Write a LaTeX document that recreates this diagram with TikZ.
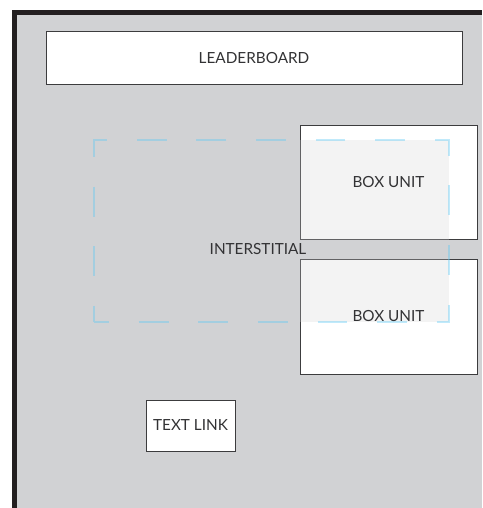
\documentclass[tikz,border=0pt]{standalone}
\usepackage{fontspec}
\setmainfont{Lato}
\definecolor{pagegray}{RGB}{209,210,212}
\definecolor{frameblack}{RGB}{35,31,32}
\definecolor{boxline}{RGB}{60,60,62}
\definecolor{textgray}{RGB}{50,50,52}
\definecolor{interblue}{RGB}{90,200,245}
\begin{document}
\begin{tikzpicture}[x=1pt, y=-1pt,
  adbox/.style = {shape=rectangle, draw=boxline, line width=1pt,
    fill=white, inner sep=0pt, text=textgray,
    font=\fontsize{15.3}{17}\selectfont},
  interbox/.style = {shape=rectangle, inner sep=0pt,
    fill=pagegray, fill opacity=0.26,
    draw=interblue, draw opacity=0.38, line width=2.8pt,
    dash pattern=on 29.8pt off 29.8pt, dash phase=14.9pt},
  adtext/.style = {text=textgray, inner sep=0pt,
    font=\fontsize{15.3}{17}\selectfont}]
  \useasboundingbox (0,0) rectangle (482,508);
  % page
  \fill[pagegray] (12,10) rectangle (482,508);
  \draw[frameblack, line width=5pt] (14.5,508) -- (14.5,12.5) -- (482,12.5);
  % units
  \node[adbox, minimum width=416pt, minimum height=53pt] (leader) at (254,58.5) {LEADERBOARD};
  \node[adbox, minimum width=177pt, minimum height=114pt] (boxa) at (388.5,182) {};
  \node[adbox, minimum width=177pt, minimum height=115pt] (boxb) at (388.5,316.5) {};
  \node[adbox, minimum width=89pt, minimum height=51pt] (textlink) at (190.5,425.5) {TEXT LINK};
  % interstitial on top
  \node[interbox, minimum width=355pt, minimum height=182pt] (inter) at (271.5,231) {};
  \node[adtext] (interlabel) at (258,249) {INTERSTITIAL};
  \node[adtext] (boxalabel) at (boxa) {BOX UNIT};
  \node[adtext] (boxblabel) at (boxb) {BOX UNIT};
\end{tikzpicture}
\end{document}
